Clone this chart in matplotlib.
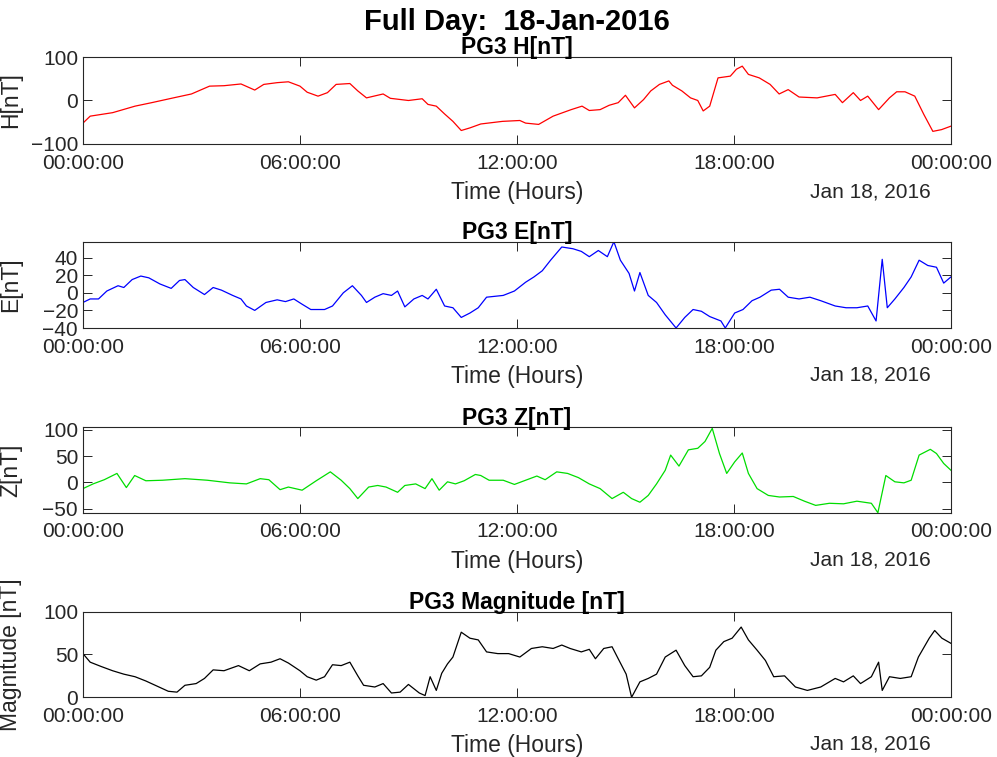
# PG3 magnetometer - full day plot
import matplotlib
matplotlib.use("Agg")
import matplotlib.pyplot as plt

plt.rcParams["font.family"] = ["Liberation Sans", "DejaVu Sans"]

# Time axis (hours of the day) and tick labels
tick_hours = [0, 6, 12, 18, 24]
tick_labels = ["00:00:00", "06:00:00", "12:00:00", "18:00:00", "00:00:00"]
date_label = "Jan 18, 2016"

# H component [nT]
h_t = [0, 0.2, 0.82, 1.44, 1.9, 2.5, 3.0, 3.5, 3.9, 4.37, 4.75, 5.0, 5.37, 5.68, 6.0,
       6.2, 6.5, 6.76, 7.0, 7.38, 7.6, 7.84, 8.3, 8.5, 9.0, 9.38, 9.54, 9.77, 10.0, 10.23,
       10.46, 10.7, 11.0, 11.6, 12.08, 12.24, 12.6, 13.0, 13.5, 13.8, 14.0, 14.3, 14.55, 14.8, 15.0,
       15.25, 15.5, 15.7, 15.94, 16.2, 16.3, 16.56, 16.8, 17.0, 17.15, 17.33, 17.56, 17.9, 18.07, 18.23,
       18.4, 18.7, 19.0, 19.25, 19.5, 19.8, 20.3, 20.8, 21.0, 21.3, 21.5, 21.7, 22.0, 22.3, 22.5,
       22.73, 23.0, 23.25, 23.5, 23.74, 24.0]
h_v = [-52, -36, -28, -13, -5, 6, 15, 33, 34, 38, 24, 37, 41, 43, 33,
       19, 10, 18, 37, 39, 22, 6, 15, 5, 0, 4, -9, -13, -31, -48,
       -69, -63, -54, -48, -46, -52, -55, -36, -21, -13, -23, -21, -11, -5, 12,
       -17, 2, 22, 37, 45, 35, 22, 6, 0, -24, -13, 52, 56, 72, 79,
       60, 52, 37, 15, 25, 8, 6, 14, -5, 18, 0, 10, -21, 6, 20,
       20, 10, -32, -71, -67, -59]

# E component [nT]
e_t = [0, 0.2, 0.43, 0.66, 0.97, 1.13, 1.36, 1.6, 1.82, 2.13, 2.44, 2.67, 2.82, 3.05, 3.36,
       3.6, 3.83, 4.14, 4.37, 4.52, 4.75, 5.06, 5.37, 5.6, 5.83, 6.06, 6.3, 6.68, 6.9, 7.2,
       7.45, 7.7, 7.84, 8.07, 8.3, 8.53, 8.7, 8.9, 9.15, 9.38, 9.54, 9.77, 10.0, 10.23, 10.46,
       10.7, 10.93, 11.16, 11.62, 11.93, 12.24, 12.47, 12.7, 12.93, 13.24, 13.55, 13.78, 14.0, 14.25, 14.5,
       14.68, 14.86, 15.1, 15.25, 15.4, 15.63, 15.86, 16.1, 16.4, 16.64, 16.87, 17.1, 17.33, 17.64, 17.76,
       18.02, 18.25, 18.5, 18.72, 19.03, 19.26, 19.5, 19.8, 20.1, 20.4, 20.8, 21.1, 21.4, 21.7, 21.93,
       22.1, 22.24, 22.45, 22.7, 22.9, 23.12, 23.36, 23.6, 23.8, 24.0]
e_v = [-11, -7, -7, 2, 8, 6, 15, 19, 17, 10, 5, 14, 15, 6, -2,
       6, 3, -3, -7, -15, -20, -11, -8, -10, -7, -13, -19, -19, -15, 0,
       8, -3, -11, -5, -1, -3, 2, -16, -7, -3, -7, 4, -15, -17, -28,
       -23, -17, -5, -3, 2, 12, 18, 25, 37, 52, 50, 47, 41, 48, 41,
       58, 37, 22, 2, 23, -3, -11, -25, -40, -28, -19, -21, -27, -32, -40,
       -23, -19, -9, -5, 3, 4, -5, -7, -5, -9, -15, -17, -17, -15, -32,
       38, -17, -7, 6, 18, 37, 31, 29, 11, 18]

# Z component [nT]
z_t = [0, 0.28, 0.59, 0.94, 1.2, 1.43, 1.74, 2.2, 2.82, 3.44, 4.06, 4.52, 4.9, 5.14, 5.45,
       5.68, 6.06, 6.45, 6.84, 7.14, 7.38, 7.6, 7.9, 8.15, 8.38, 8.7, 8.9, 9.2, 9.46, 9.65,
       9.85, 10.08, 10.3, 10.54, 10.85, 11.0, 11.23, 11.62, 11.93, 12.24, 12.55, 12.78, 13.1, 13.4, 13.7,
       14.0, 14.3, 14.63, 14.94, 15.17, 15.4, 15.63, 15.86, 16.1, 16.25, 16.48, 16.74, 17.0, 17.2, 17.4,
       17.6, 17.8, 18.02, 18.23, 18.4, 18.64, 18.95, 19.26, 19.64, 19.95, 20.26, 20.64, 21.03, 21.4, 21.8,
       21.98, 22.2, 22.45, 22.7, 22.9, 23.12, 23.43, 23.6, 23.8, 24.0]
z_v = [-12, -3, 5, 17, -10, 13, 3, 4, 7, 4, -1, -3, 7, 5, -14,
       -9, -15, 3, 20, 4, -12, -31, -9, -6, -9, -19, -6, -3, -12, 7,
       -15, 1, -3, 3, 15, 13, 4, 4, -4, 4, 12, 5, 20, 17, 9,
       -3, -12, -31, -19, -31, -38, -25, -3, 23, 52, 31, 62, 65, 78, 103,
       55, 17, 39, 56, 17, -12, -25, -28, -27, -36, -44, -40, -41, -36, -40,
       -58, 13, 1, -1, 4, 52, 63, 55, 36, 23]

# Total magnitude [nT]
m_t = [0, 0.2, 0.5, 0.82, 1.13, 1.44, 1.74, 2.05, 2.36, 2.6, 2.82, 3.13, 3.36, 3.6, 3.9,
       4.3, 4.6, 4.9, 5.2, 5.45, 5.68, 6.0, 6.2, 6.45, 6.68, 6.9, 7.14, 7.38, 7.6, 7.76,
       8.07, 8.3, 8.53, 8.77, 9.0, 9.3, 9.46, 9.6, 9.77, 9.92, 10.08, 10.23, 10.46, 10.7, 10.93,
       11.16, 11.47, 11.77, 12.08, 12.4, 12.7, 13.0, 13.24, 13.47, 13.78, 14.0, 14.17, 14.4, 14.63, 14.8,
       15.02, 15.17, 15.4, 15.63, 15.86, 16.1, 16.4, 16.64, 16.87, 17.1, 17.33, 17.5, 17.72, 17.95, 18.2,
       18.4, 18.64, 18.87, 19.1, 19.4, 19.7, 20.03, 20.4, 20.8, 21.03, 21.3, 21.5, 21.8, 22.0, 22.1,
       22.3, 22.6, 22.9, 23.1, 23.4, 23.55, 23.75, 24.0]
m_v = [51, 41, 36, 31, 27, 24, 19, 13, 7, 6, 14, 16, 22, 32, 31,
       37, 31, 39, 41, 45, 40, 31, 24, 20, 24, 38, 37, 41, 25, 14,
       12, 16, 5, 6, 15, 5, 2, 24, 8, 28, 39, 47, 76, 69, 67,
       53, 51, 51, 47, 57, 59, 57, 61, 57, 53, 56, 45, 57, 59, 45,
       27, 0, 18, 22, 27, 47, 55, 37, 24, 25, 35, 55, 65, 69, 82,
       67, 55, 43, 24, 25, 12, 8, 12, 22, 18, 25, 16, 24, 41, 8,
       24, 22, 24, 47, 69, 78, 69, 63]

# One row per panel: times, values, colour, title, y label, y limits, y ticks
panels = [
    (h_t, h_v, "#ff0000", "PG3 H[nT]", "H[nT]", (-100, 100), [-100, 0, 100]),
    (e_t, e_v, "#0000ff", "PG3 E[nT]", "E[nT]", (min(e_v), max(e_v)), [-40, -20, 0, 20, 40]),
    (z_t, z_v, "#00dd00", "PG3 Z[nT]", "Z[nT]", (min(z_v), 105), [-50, 0, 50, 100]),
    (m_t, m_v, "#000000", "PG3 Magnitude [nT]", "Magnitude [nT]", (0, 100), [0, 50, 100]),
]

# Axes boxes in figure fractions (left, bottom, width, height)
boxes = [
    (0.0832, 0.8098, 0.8706, 0.1149),
    (0.0832, 0.5667, 0.8706, 0.1140),
    (0.0832, 0.3227, 0.8706, 0.1128),
    (0.0832, 0.0789, 0.8706, 0.1131),
]

fig = plt.figure(figsize=(9.97, 7.57), dpi=100)
fig.text(0.518, 0.971, "Full Day:  18-Jan-2016", ha="center", va="center",
         fontsize=21, fontweight="bold")

for (t, v, color, title, ylabel, ylim, yticks), box in zip(panels, boxes):
    ax = fig.add_axes(box)
    ax.plot(t, v, color=color, linewidth=0.9)
    ax.set_xlim(0, 24)
    ax.set_ylim(*ylim)
    ax.set_xticks(tick_hours)
    ax.set_xticklabels(tick_labels)
    ax.set_yticks(yticks)
    ax.tick_params(direction="in", length=6.5, width=0.7, top=True, right=True,
                   labelsize=15, colors="#262626", labelcolor="#262626")
    ax.tick_params(axis="x", pad=7)
    for spine in ax.spines.values():
        spine.set_color("#262626")
        spine.set_linewidth(0.8)
    ax.set_title(title, fontsize=16.5, fontweight="bold", pad=2)
    ax.set_xlabel("Time (Hours)", fontsize=16.5, labelpad=6, color="#262626")
    ax.set_ylabel(ylabel, fontsize=16.5, color="#262626")
    ax.yaxis.set_label_coords(-0.07, 0.5)
    ax.text(0.977, -0.55, date_label, transform=ax.transAxes, ha="right", va="center",
            fontsize=15, color="#262626")

# Saving the graph
fig.savefig("out.png", dpi=100)
